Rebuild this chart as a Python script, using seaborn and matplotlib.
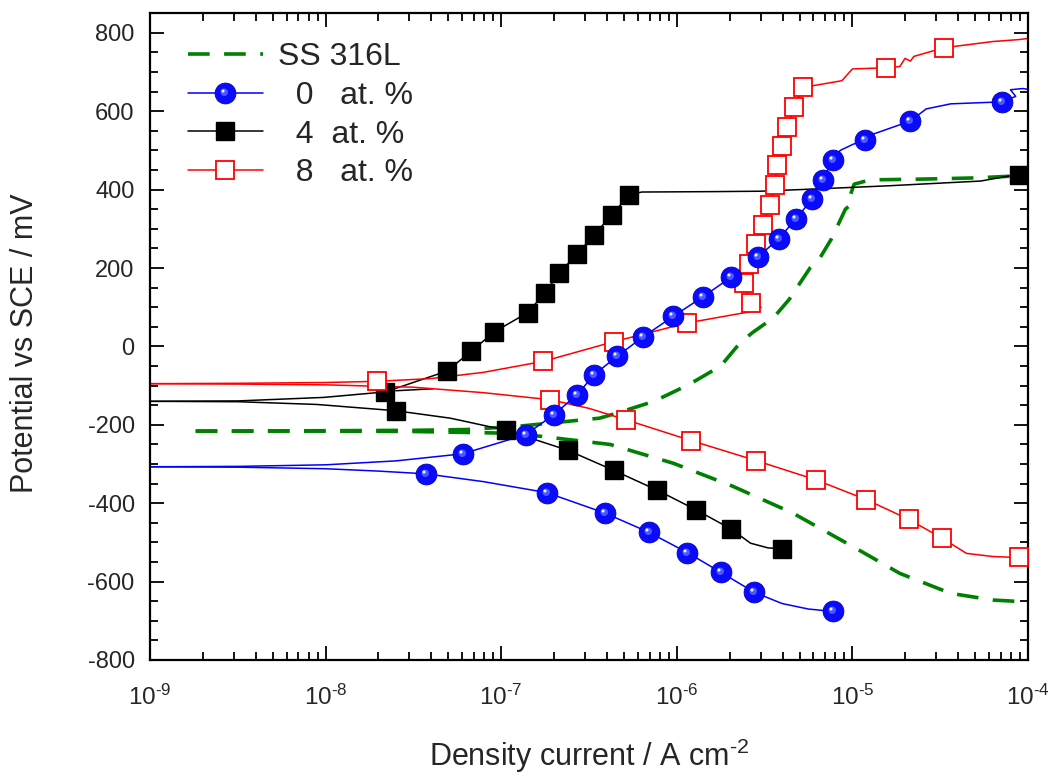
import numpy as np
import pandas as pd
import matplotlib
matplotlib.use("Agg")
import matplotlib.pyplot as plt
import seaborn as sns
from matplotlib.lines import Line2D
from matplotlib.path import Path
from matplotlib.legend_handler import HandlerTuple
from matplotlib.ticker import FixedLocator, LogLocator, MultipleLocator, NullFormatter, FuncFormatter

# %% data: log10(current density / A cm-2) and potential (mV vs SCE)

# SS 316L (dashed green, no markers)
ss_cat_logi = [-8.74, -8.0, -7.5, -7.0, -6.78, -6.38, -6.02, -5.68, -5.34, -4.98, -4.73, -4.44, -4.2, -4.0]
ss_cat_E = [-216, -216, -217, -221, -229, -250, -298, -357, -425, -515, -579, -630, -647, -652]
ss_an_logi = [-8.74, -8.0, -7.5, -7.2, -6.91, -6.44, -6.34, -6.13, -5.93, -5.75, -5.64, -5.57, -5.45,
              -5.36, -5.31, -5.24, -5.19, -5.12, -5.04, -5.02, -5.03, -4.99, -4.9, -4.6, -4.3, -4.07, -4.0]
ss_an_E = [-216, -215, -214, -212, -204, -183, -170, -140, -97, -50, 9, 35, 73,
           120, 154, 201, 222, 274, 350, 358, 363, 414, 425, 427, 430, 435, 436]

# 0 at. %
a0_cat_logi = [-9.0, -8.5, -8.0, -7.7, -7.43, -7.1, -6.74, -6.41, -6.16, -5.94, -5.75, -5.56, -5.40, -5.25, -5.11]
a0_cat_E = [-307, -308, -312, -318, -325, -345, -373, -425, -474, -526, -576, -627, -656, -670, -676]
a0_an_logi = [-9.0, -8.5, -8.0, -7.6, -7.22, -6.86, -6.70, -6.57, -6.47, -6.34, -6.19, -6.02, -5.85,
              -5.69, -5.54, -5.42, -5.32, -5.23, -5.17, -5.11, -5.07, -5.0, -4.93, -4.88, -4.67,
              -4.58, -4.44, -4.15, -4.07, -4.1, -4.03, -4.0]
a0_an_E = [-307, -306, -302, -292, -274, -225, -174, -124, -72, -25, 25, 77, 127,
           177, 227, 275, 326, 376, 425, 475, 500, 515, 528, 542, 575,
           606, 619, 624, 638, 655, 658, 656]
a0_mk_logi = [-7.43, -6.74, -6.41, -6.16, -5.94, -5.75, -5.56, -5.11,
              -7.22, -6.86, -6.70, -6.57, -6.47, -6.34, -6.19, -6.02, -5.85, -5.69,
              -5.54, -5.42, -5.32, -5.23, -5.17, -5.11, -4.93, -4.67, -4.15]
a0_mk_E = [-325, -373, -425, -474, -526, -576, -627, -676,
           -274, -225, -174, -124, -72, -25, 25, 77, 127, 177,
           227, 275, 326, 376, 425, 475, 528, 575, 624]

# 4 at. %
a4_cat_logi = [-9.0, -8.5, -8.05, -7.6, -7.29, -6.97, -6.62, -6.36, -6.11, -5.89, -5.69, -5.58, -5.48, -5.40]
a4_cat_E = [-140, -141, -148, -164, -183, -214, -265, -316, -367, -417, -466, -502, -514, -516]
a4_an_logi = [-9.0, -8.5, -8.01, -7.66, -7.31, -7.17, -7.04, -6.85, -6.75, -6.67, -6.57, -6.47, -6.37,
              -6.27, -6.2, -5.8, -5.53, -5.2, -4.79, -4.27, -4.08, -4.0]
a4_an_E = [-140, -139, -130, -116, -63, -12, 37, 86, 137, 187, 235, 285, 336,
           387, 394, 395, 396, 402, 410, 422, 437, 440]
a4_spur_logi = [-7.6, -7.39]
a4_spur_E = [-113, -108]
a4_mk_logi = [-7.6, -6.97, -6.62, -6.36, -6.11, -5.89, -5.69, -5.40,
              -7.66, -7.31, -7.17, -7.04, -6.85, -6.75, -6.67, -6.57, -6.47, -6.37, -6.27, -4.05]
a4_mk_E = [-164, -214, -265, -316, -367, -417, -466, -516,
           -116, -63, -12, 37, 86, 137, 187, 235, 285, 336, 387, 437]

# 8 at. %
a8_cat_logi = [-9.0, -8.5, -8.0, -7.5, -7.1, -6.72, -6.5, -6.29, -5.92, -5.55, -5.21, -4.92, -4.68,
               -4.49, -4.35, -4.2, -4.09, -4.0]
a8_cat_E = [-95, -96, -98, -104, -118, -136, -158, -187, -240, -291, -340, -391, -441,
            -489, -528, -536, -538, -538]
a8_an_logi = [-9.0, -8.5, -8.0, -7.71, -7.4, -7.1, -6.76, -6.36, -5.94, -5.59, -5.52, -5.6, -5.58,
              -5.62, -5.59, -5.55, -5.51, -5.47, -5.44, -5.43, -5.40, -5.37, -5.33, -5.28,
              -5.06, -5.0, -4.81, -4.73, -4.70, -4.67, -4.65, -4.48, -4.2, -4.05, -4.0]
a8_an_E = [-95, -94, -92, -89, -82, -66, -38, 12, 60, 88, 100, 100, 112,
           163, 210, 261, 310, 361, 412, 463, 512, 561, 610, 661,
           678, 708, 711, 714, 735, 728, 740, 762, 778, 783, 786]
a8_mk_logi = [-6.72, -6.29, -5.92, -5.55, -5.21, -4.92, -4.68, -4.49, -4.05,
              -7.71, -6.76, -6.36, -5.94, -5.58, -5.62, -5.59, -5.55, -5.51, -5.47,
              -5.44, -5.43, -5.40, -5.37, -5.33, -5.28, -4.81, -4.48]
a8_mk_E = [-136, -187, -240, -291, -340, -391, -441, -489, -538,
           -89, -38, 12, 60, 112, 163, 210, 261, 310, 361,
           412, 463, 512, 561, 610, 661, 711, 762]

labels = ["SS 316L", "  0   at. %", "  4  at. %", "  8   at. %"]
x_decades = [-9, -8, -7, -6, -5, -4]

# %% style

sns.set_style("ticks")
plt.rcParams["font.family"] = ["Liberation Sans", "DejaVu Sans"]
plt.rcParams["mathtext.fontset"] = "custom"
plt.rcParams["mathtext.rm"] = "Liberation Sans"
plt.rcParams["mathtext.it"] = "Liberation Sans"
plt.rcParams["mathtext.bf"] = "Liberation Sans"
plt.rcParams["axes.unicode_minus"] = False

GREEN = "#008000"
BLUE = "#0000ff"
RED = "#ff0000"


def spot(cx, cy, r):
    ## circle marker shifted inside the unit box, used for the shiny ball look
    c = Path.circle(center=(cx, cy), radius=r)
    verts = np.vstack([[[-1, -1], [1, 1]], c.vertices])
    codes = np.concatenate([[Path.MOVETO, Path.MOVETO], c.codes])
    return Path(verts, codes)


glow = spot(-0.12, 0.12, 0.36)
shine = spot(-0.24, 0.24, 0.15)
BALL = dict(mfc="#0a0aff", mec="#0000c0", mew=0.6)


def line(logi, E, **kw):
    df = pd.DataFrame({"i": 10.0 ** np.array(logi), "E": E})
    sns.lineplot(data=df, x="i", y="E", sort=False, estimator=None, ax=ax, legend=False, **kw)


fig = plt.figure(figsize=(10.55, 7.76), dpi=100)
ax = fig.add_axes([150 / 1055, 1 - 660 / 776, 878 / 1055, 646.7 / 776])
ax.set_xscale("log")

# SS 316L
line(ss_cat_logi, ss_cat_E, color=GREEN, lw=2.6, dashes=(6, 4))
line(ss_an_logi, ss_an_E, color=GREEN, lw=2.6, dashes=(6, 4))

# 4 at.%
line(a4_cat_logi, a4_cat_E, color="black", lw=1.1)
line(a4_an_logi, a4_an_E, color="black", lw=1.1)
line(a4_spur_logi, a4_spur_E, color="black", lw=1.1)
ax.plot(10.0 ** np.array(a4_mk_logi), a4_mk_E, ls="none", marker="s", ms=13, color="black", zorder=4)

# 8 at.%
line(a8_cat_logi, a8_cat_E, color=RED, lw=1.1)
line(a8_an_logi, a8_an_E, color=RED, lw=1.1)
ax.plot(10.0 ** np.array(a8_mk_logi), a8_mk_E, ls="none", marker="s", ms=13, mfc="white",
        mec=RED, mew=1.3, zorder=4)

# 0 at.%
line(a0_cat_logi, a0_cat_E, color=BLUE, lw=1.1)
line(a0_an_logi, a0_an_E, color=BLUE, lw=1.1)
x0 = 10.0 ** np.array(a0_mk_logi)
ax.plot(x0, a0_mk_E, ls="none", marker="o", ms=15, zorder=5, **BALL)
ax.plot(x0, a0_mk_E, ls="none", marker=glow, ms=15, mfc="#4a58ff", mec="none", zorder=6)
ax.plot(x0, a0_mk_E, ls="none", marker=shine, ms=15, mfc="#eef0ff", mec="none", zorder=7)

# %% axes

ax.set_xlim(1e-9, 1e-4)
ax.set_ylim(-800, 850)
ax.yaxis.set_major_locator(MultipleLocator(200))
ax.yaxis.set_minor_locator(MultipleLocator(50))
ax.xaxis.set_major_locator(FixedLocator([10.0 ** d for d in x_decades]))
ax.xaxis.set_minor_locator(LogLocator(base=10, subs=np.arange(2, 10), numticks=20))
ax.xaxis.set_minor_formatter(NullFormatter())
ax.xaxis.set_major_formatter(FuncFormatter(lambda v, p: "10$^{\\text{%d}}$" % round(np.log10(v))))

ax.tick_params(which="both", direction="in", top=True, right=True, width=1.3, color="black")
ax.tick_params(which="major", length=10)
ax.tick_params(which="minor", length=5.5)
ax.tick_params(axis="y", labelsize=17, pad=11)
ax.tick_params(axis="x", labelsize=17.5, pad=18)
for s in ax.spines.values():
    s.set_linewidth(1.6)
    s.set_color("black")

ax.set_ylabel("Potential vs SCE / mV", fontsize=22)
ax.yaxis.set_label_coords(-0.125, 0.49)
ax.set_xlabel("Density current / A cm$^{\\text{-2}}$", fontsize=22)
ax.xaxis.set_label_coords(0.5, -0.118)

# %% legend

h_ss = Line2D([], [], color=GREEN, lw=2.6, dashes=(6, 4))
h0 = (Line2D([], [], color=BLUE, lw=1.1, marker="o", ms=15, **BALL),
      Line2D([], [], ls="none", marker=glow, ms=15, mfc="#4a58ff", mec="none"),
      Line2D([], [], ls="none", marker=shine, ms=15, mfc="#eef0ff", mec="none"))
h4 = Line2D([], [], color="black", lw=1.1, marker="s", ms=13)
h8 = Line2D([], [], color=RED, lw=1.1, marker="s", ms=13, mfc="white", mec=RED, mew=1.3)
ax.legend([h_ss, h0, h4, h8], labels, handler_map={tuple: HandlerTuple(ndivide=1)},
          loc="upper left", bbox_to_anchor=(0.043, 0.955), frameon=False, fontsize=23,
          handlelength=2.35, handletextpad=0.47, labelspacing=0.27, borderaxespad=0, borderpad=0,
          numpoints=1)

fig.savefig("out.png", dpi=100)
